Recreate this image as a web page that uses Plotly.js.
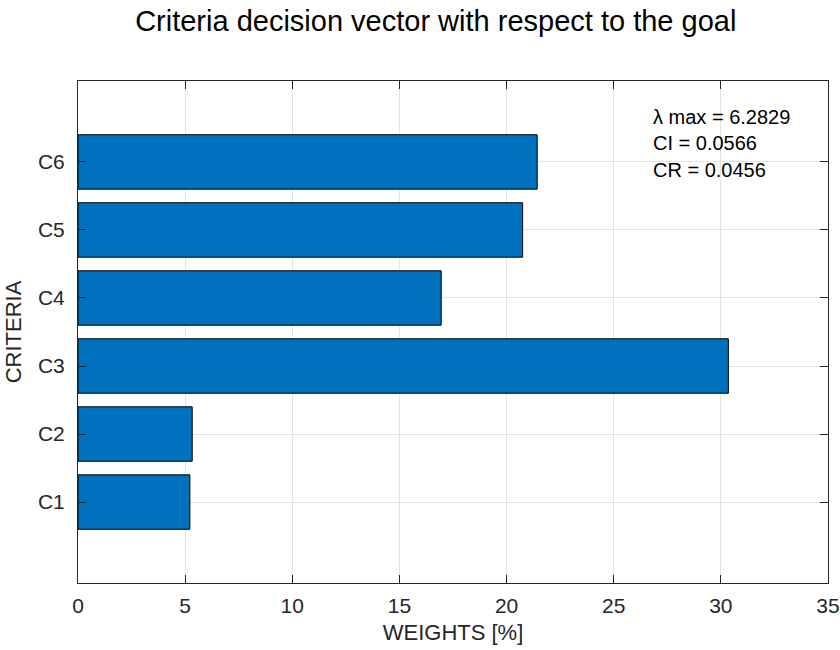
<!DOCTYPE html>
<html>
<head>
<meta charset="utf-8">
<script src="https://cdn.plot.ly/plotly-3.0.1.min.js"></script>
<style>html,body{margin:0;padding:0;background:#fff;}#chart{width:840px;height:650px;}</style>
</head>
<body>
<div id="chart"></div>
<script>
const criteria = ["C1", "C2", "C3", "C4", "C5", "C6"];
const weights = [5.22, 5.33, 30.35, 16.95, 20.75, 21.43];
const xTicks = [0, 5, 10, 15, 20, 25, 30, 35];
const statsLines = ["λ max = 6.2829", "CI = 0.0566", "CR = 0.0456"];
const titleText = "Criteria decision vector with respect to the goal";

const FONT = "Liberation Sans, Arial, Helvetica, sans-serif";
const AX = "#262626";

const trace = {
  type: "bar",
  orientation: "h",
  x: weights,
  y: criteria,
  marker: {color: "#0072BD", line: {color: "#000000", width: 1}},
  hoverinfo: "x+y"
};

const plotTop = 81, plotBottom = 583;
const annY = [116.7, 143.3, 170];
const annotations = statsLines.map((t, i) => ({
  text: t,
  xref: "paper", yref: "paper",
  x: (651 - 78) / 750, y: (plotBottom - annY[i]) / (plotBottom - plotTop),
  xanchor: "left", yanchor: "middle",
  showarrow: false, align: "left",
  font: {family: FONT, size: 20, color: "#000000"}
}));

const layout = {
  width: 840, height: 650,
  margin: {l: 78, r: 12, t: plotTop, b: 650 - plotBottom, pad: 0},
  paper_bgcolor: "#ffffff", plot_bgcolor: "#ffffff",
  showlegend: false,
  bargap: 0.2,
  title: {
    text: titleText,
    font: {family: FONT, size: 29, color: "#000000"},
    xref: "paper", x: 0.477, xanchor: "center",
    yref: "container", y: 1 - 21 / 650, yanchor: "middle"
  },
  xaxis: {
    range: [0, 35],
    tickvals: xTicks,
    ticktext: xTicks.map(String),
    showgrid: true, gridcolor: "#e3e3e3", gridwidth: 1,
    zeroline: false,
    showline: true, linecolor: AX, linewidth: 1, mirror: "ticks",
    ticks: "inside", ticklen: 8, tickcolor: AX, tickwidth: 1,
    ticklabelstandoff: 4,
    tickfont: {family: FONT, size: 21, color: AX},
    title: {text: "WEIGHTS [%]", font: {family: FONT, size: 22, color: AX}, standoff: 8},
    fixedrange: true
  },
  yaxis: {
    type: "category",
    categoryorder: "array", categoryarray: criteria,
    range: [-1.19, 6.19],
    showgrid: true, gridcolor: "#e3e3e3", gridwidth: 1,
    zeroline: false,
    showline: true, linecolor: AX, linewidth: 1, mirror: "ticks",
    ticks: "inside", ticklen: 8, tickcolor: AX, tickwidth: 1,
    ticklabelstandoff: 8,
    tickfont: {family: FONT, size: 21, color: AX},
    title: {text: "CRITERIA", font: {family: FONT, size: 22, color: AX}, standoff: 10},
    fixedrange: true
  },
  annotations: annotations
};

Plotly.newPlot("chart", [trace], layout, {displayModeBar: false, staticPlot: true});
</script>
</body>
</html>
